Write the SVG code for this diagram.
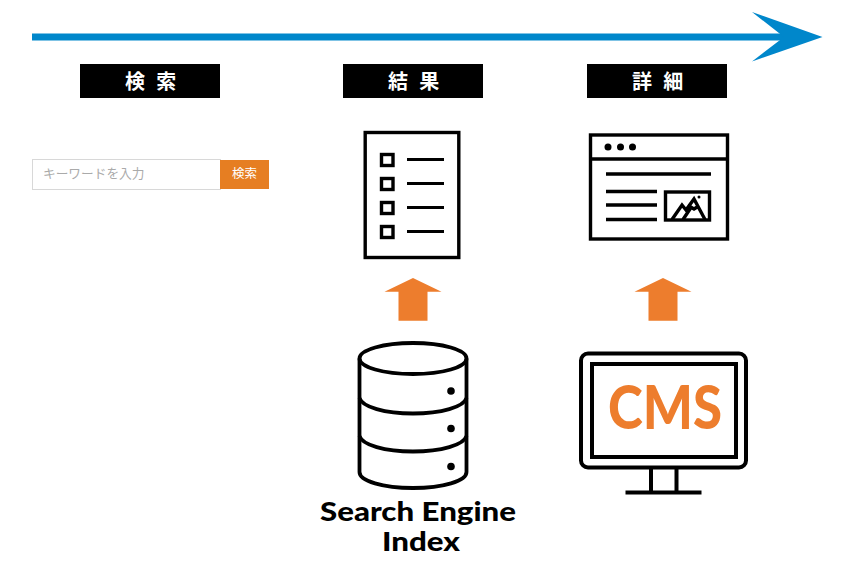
<svg xmlns="http://www.w3.org/2000/svg" width="850" height="580" viewBox="0 0 850 580">
<style>
.bg{fill:#fff}
.hd{fill:#000}
.hdt{font-family:"Noto Sans CJK JP","Noto Sans",sans-serif;font-weight:700;font-size:20px;fill:#fff;letter-spacing:3.300px}
.ln{fill:none;stroke:#000;stroke-width:3.400}
.up{fill:#ed7d2d}
.en{font-family:"Lato","Open Sans",sans-serif;font-weight:900;font-size:27px;fill:#000;text-anchor:middle}
</style>
<defs>
<path id="upa" d="M0 0L28.500 13.700L14.500 13.700L14.500 42.700L-14.500 42.700L-14.500 13.700L-28.500 13.700Z"/>
</defs>
<rect class="bg" width="850" height="580"/>
<g id="timeline">
<path d="M32 33.500H792V40.500H32Z" fill="#0087cb"/>
<path d="M752 12L822.500 37L752 61.500L784 37Z" fill="#0087cb"/>
</g>
<g id="label-search">
<rect class="hd" x="80" y="64" width="140" height="34"/>
<text class="hdt" x="125" y="89">検 索</text>
</g>
<g id="label-result">
<rect class="hd" x="343" y="64" width="140" height="34"/>
<text class="hdt" x="388" y="89">結 果</text>
</g>
<g id="label-detail">
<rect class="hd" x="587" y="64" width="140" height="34"/>
<text class="hdt" x="632" y="89">詳 細</text>
</g>
<g id="search-box">
<rect x="32.500" y="159.500" width="188" height="30" fill="#fff" stroke="#d8d8d8"/>
<rect x="220" y="160" width="49" height="29" fill="#e67e22"/>
<text x="43" y="178" font-family="Noto Sans CJK JP, sans-serif" font-size="12.700" fill="#aaa">キーワードを入力</text>
<text x="232" y="178" font-family="Noto Sans CJK JP, sans-serif" font-size="12.500" fill="#fff">検索</text>
</g>
<g id="results-icon">
<rect class="ln" x="365.200" y="132.500" width="93.600" height="125"/>
<g class="ln">
<rect x="381.500" y="154.500" width="11.500" height="11"/>
<rect x="381.500" y="178.500" width="11.500" height="11"/>
<rect x="381.500" y="202.500" width="11.500" height="11"/>
<rect x="381.500" y="226.500" width="11.500" height="11"/>
<path d="M407 159.500H444M407 183.500H444M407 207.500H444M407 231.500H444" stroke-width="2.800"/>
</g>
</g>
<g id="detail-icon">
<rect class="ln" x="590.500" y="135" width="137" height="104"/>
<path class="ln" d="M590.500 159H727.500"/>
<circle cx="608" cy="147" r="3.500"/><circle cx="620.500" cy="147" r="3.500"/><circle cx="632.500" cy="147" r="3.500"/>
<path class="ln" d="M606 174H711M606 191.500H657M606 205H657M606 219.500H657"/>
<rect class="ln" x="665.500" y="192" width="44" height="28"/>
<path class="ln" d="M672 219.500L682 205L686 210L694 199L705 219.500M683 219.500L691 207.500M689 206L694 209L698 206.500"/>
<circle cx="699" cy="197" r="1.500"/>
</g>
<g id="connectors">
<use href="#upa" class="up" x="413" y="278"/>
<use href="#upa" class="up" x="663" y="278"/>
</g>
<g id="index-icon">
<g fill="none" stroke="#000" stroke-width="3.800">
<ellipse cx="413" cy="358.500" rx="53.500" ry="15.500"/>
<path d="M359.500 358.500V472C359.500 481 383 488 413 488C443 488 466.500 481 466.500 472V358.500"/>
<path d="M359.500 398C362 407 385 413.500 413 413.500C441 413.500 464 407 466.500 398"/>
<path d="M359.500 436C362 445 385 451.500 413 451.500C441 451.500 464 445 466.500 436"/>
</g>
<circle cx="451" cy="391" r="3.800"/><circle cx="451" cy="428.500" r="3.800"/><circle cx="451" cy="466.500" r="3.800"/>
<text class="en" x="418" y="520.500" textLength="196" lengthAdjust="spacingAndGlyphs">Search Engine</text>
<text class="en" x="421" y="551" textLength="78" lengthAdjust="spacingAndGlyphs">Index</text>
</g>
<g id="cms-icon">
<rect x="581" y="353.500" width="165" height="114" rx="7" fill="none" stroke="#000" stroke-width="4"/>
<rect x="592" y="364" width="144" height="93" fill="none" stroke="#000" stroke-width="4"/>
<path d="M651 469V492M676.500 469V492M625.500 492.500H701.500" fill="none" stroke="#000" stroke-width="4"/>
<text x="665" y="428.500" font-family="Lato, Open Sans, sans-serif" font-weight="900" font-size="61" fill="#ed7d2d" text-anchor="middle" textLength="114" lengthAdjust="spacingAndGlyphs">CMS</text>
</g>
</svg>
